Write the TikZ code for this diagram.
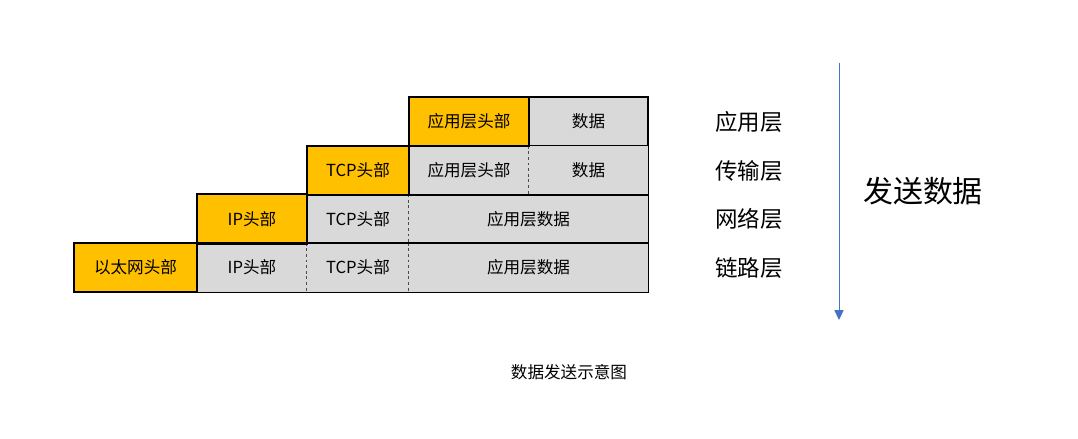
\documentclass[tikz,border=0pt]{standalone}
\usepackage{fontspec}
\setmainfont{Noto Sans CJK SC}
\usepackage{xcolor}
\usetikzlibrary{arrows.meta,positioning}

\definecolor{hdryellow}{HTML}{FFC000}
\definecolor{datgray}{HTML}{D9D9D9}
\definecolor{arrowblue}{HTML}{4472C4}

\tikzset{
  cell/.style={rectangle,inner sep=0pt,minimum height=1.225cm,font=\fontsize{11.8}{14}\selectfont},
  hdr/.style={cell,draw,line width=1pt,fill=hdryellow},
  dat/.style={cell,fill=datgray},
  frame/.style={line width=1pt},
  divider/.style={gray!60!black,line width=0.6pt,dash pattern=on 2pt off 2pt},
  layer/.style={font=\fontsize{16}{19}\selectfont}
}

\begin{document}
\begin{tikzpicture}
\useasboundingbox (0,0) rectangle (26.95,10.975);
% Visual representation
\node[hdr,minimum width=3cm] (app1) at (11.725,7.9375) {应用层头部};
\node[dat,draw,line width=1pt,minimum width=2.975cm] (dat1) at (14.7125,7.9375) {数据};

\node[dat,minimum width=3cm] (app2) at (11.725,6.7125) {应用层头部};
\node[dat,minimum width=2.975cm] (dat2) at (14.7125,6.7125) {数据};
\node[hdr,minimum width=2.55cm] (tcp2) at (8.95,6.7125) {TCP头部};

\node[dat,minimum width=2.55cm] (tcp3) at (8.95,5.5) {TCP头部};
\node[dat,minimum width=5.975cm] (app3) at (13.2125,5.5) {应用层数据};
\node[hdr,minimum width=2.75cm] (ip3) at (6.3,5.5) {IP头部};

\node[dat,minimum width=2.75cm] (ip4) at (6.3,4.2875) {IP头部};
\node[dat,minimum width=2.55cm] (tcp4) at (8.95,4.2875) {TCP头部};
\node[dat,minimum width=5.975cm] (app4) at (13.2125,4.2875) {应用层数据};
\node[hdr,minimum width=3.075cm] (eth4) at (3.3875,4.2875) {以太网头部};

\draw[divider] (dat2.north west) -- (dat2.south west);
\draw[divider] (app3.north west) -- (app3.south west);
\draw[divider] (tcp4.north west) -- (tcp4.south west);
\draw[divider] (app4.north west) -- (app4.south west);

\draw[frame] (app2.north west) rectangle (dat2.south east);
\draw[frame] (tcp3.north west) rectangle (app3.south east);
\draw[frame] (ip4.north west) rectangle (app4.south east);
\draw[frame] (tcp2.north west) rectangle (tcp2.south east);
\draw[frame] (ip3.north west) rectangle (ip3.south east);
\draw[frame] (eth4.north west) rectangle (eth4.south east);
\draw[frame] (app1.north west) rectangle (app1.south east);

\node[layer] (l1) at (18.725,7.925) {应用层};
\node[layer] (l2) at (18.725,6.7) {传输层};
\node[layer] (l3) at (18.725,5.5) {网络层};
\node[layer] (l4) at (18.725,4.275) {链路层};

\coordinate (top) at (20.975,9.4);
\coordinate (bottom) at (20.975,2.975);
\draw[-{Triangle[width=6.5pt,length=7pt]},arrowblue,line width=0.7pt] (top) -- (bottom);

\node[font=\fontsize{21.3}{25}\selectfont] (send) at (23.075,6.2) {发送数据};
\node[font=\fontsize{11.8}{14}\selectfont] (caption) at (14.225,1.675) {数据发送示意图};
\end{tikzpicture}
\end{document}
